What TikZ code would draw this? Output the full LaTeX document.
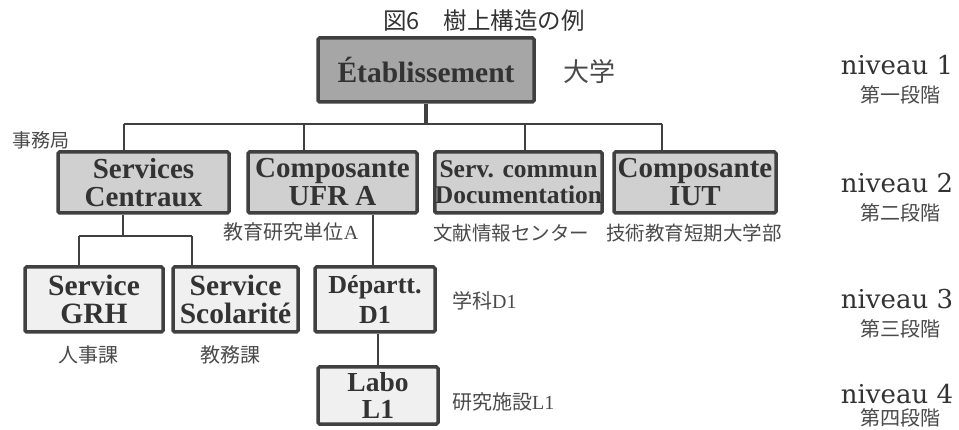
\documentclass[tikz,border=0pt]{standalone}
\usepackage{fontspec}
\setmainfont{Liberation Serif}
\newfontfamily\jp{Noto Sans CJK JP}
\newfontfamily\nivfont{DejaVu Serif}
\usepackage{tikz}
\definecolor{edge}{HTML}{404040}
\definecolor{ink}{HTML}{333333}
\definecolor{note}{HTML}{4a4a4a}
\definecolor{fillone}{HTML}{a6a6a6}
\definecolor{filltwo}{HTML}{d0d0d0}
\definecolor{fillthree}{HTML}{f0f0f0}
\tikzset{
  box/.style={draw=edge, line width=3.5pt, rounded corners=1.5pt, inner sep=0pt, align=center, text=ink},
  boxone/.style={box, fill=fillone, minimum width=216pt, minimum height=64pt, font=\fontsize{29.5}{28}\selectfont\bfseries},
  boxtwo/.style={box, fill=filltwo, minimum height=61pt, font=\fontsize{29}{28}\selectfont\bfseries},
  boxthree/.style={box, fill=fillthree, minimum height=65pt, font=\fontsize{29.5}{28}\selectfont\bfseries},
  link/.style={draw=edge, line width=2pt},
  jplabel/.style={inner sep=0pt, text=note, font=\jp\fontsize{20}{22}\selectfont},
  nivlabel/.style={inner sep=0pt, text=ink, font=\nivfont\fontsize{26}{28}\selectfont},
  steplabel/.style={inner sep=0pt, text=note, font=\jp\fontsize{20}{22}\selectfont}
}
\begin{document}
\begin{tikzpicture}[x=1pt, y=-1pt]
   \useasboundingbox (0,0) rectangle (959,430);
   \node[inner sep=0pt, text=ink, font=\jp\fontsize{23.5}{25}\selectfont] (title) at (484,21) {図6　樹上構造の例};

   \node[boxone] (etab) at (426,70) {Établissement};
   \node[boxtwo, minimum width=171pt] (sc) at (143.5,182.5) {Services\\Centraux};
   \node[boxtwo, minimum width=169pt] (ufr) at (332.5,182.5) {Composante\\UFR A};
   \node[boxtwo, minimum width=167pt, font=\fontsize{25.5}{26}\selectfont\bfseries] (doc) at (518.5,182.5) {Serv. commun\\Documentation};
   \node[boxtwo, minimum width=162pt] (iut) at (695,182.5) {Composante\\IUT};
   \node[boxthree, minimum width=138pt] (grh) at (94,299.5) {Service\\GRH};
   \node[boxthree, minimum width=125pt] (scol) at (235.5,299.5) {Service\\Scolarité};
   \node[boxthree, minimum width=120pt, font=\fontsize{26}{30}\selectfont\bfseries] (dep) at (375,299.5) {Départt.\\D1};
   \node[boxthree, minimum width=120pt, minimum height=57pt, font=\fontsize{27.5}{27}\selectfont\bfseries] (labo) at (378,395.5) {Labo\\L1};

   \coordinate (b1) at (124,124);
   \coordinate (b2) at (304,124);
   \coordinate (b3) at (525,124);
   \coordinate (b4) at (662,124);
   \coordinate (c0) at (123,236);
   \coordinate (c1) at (79,236);
   \coordinate (c2) at (192,236);
   \coordinate (u) at (373,250);
   \coordinate (l) at (378,350);

   \draw[link, line width=4pt] (etab.south) -- (etab.south |- b1);
   \draw[link] (b1) -- (b4);
   \draw[link] (b1) -- (b1 |- sc.north);
   \draw[link] (b2) -- (b2 |- ufr.north);
   \draw[link] (b3) -- (b3 |- doc.north);
   \draw[link] (b4) -- (b4 |- iut.north);
   \draw[link] (c0 |- sc.south) -- (c0);
   \draw[link] (c1) -- (c2);
   \draw[link, line width=2.6pt] (c1) -- (c1 |- grh.north);
   \draw[link, line width=2.6pt] (c2) -- (c2 |- scol.north);
   \draw[link, line width=2.6pt] (u |- ufr.south) -- (u |- dep.north);
   \draw[link, line width=2.6pt] (l |- dep.south) -- (l |- labo.north);

   \node[jplabel, font=\jp\fontsize{26}{28}\selectfont, anchor=west] (daigaku) at (563,72) {大学};
   \node[jplabel, font=\jp\fontsize{19}{22}\selectfont] (jimu) at (41,140) {事務局};
   \node[jplabel] (kyoiku) at (291,232) {教育研究単位\rmfamily A};
   \node[jplabel, font=\jp\fontsize{19.5}{22}\selectfont] (bunken) at (511,233) {文献情報センター};
   \node[jplabel, font=\jp\fontsize{19.5}{22}\selectfont] (gijutsu) at (694,233) {技術教育短期大学部};
   \node[jplabel] (jinji) at (88,355) {人事課};
   \node[jplabel] (kyomu) at (230,355) {教務課};
   \node[jplabel, anchor=west] (gakka) at (452,301) {学科\rmfamily D1};
   \node[jplabel, anchor=west] (kenkyu) at (452,402) {研究施設\rmfamily L1};

   \node[nivlabel] (n1) at (897,65) {niveau 1};
   \node[steplabel] (s1) at (900,95) {第一段階};
   \node[nivlabel] (n2) at (897,183) {niveau 2};
   \node[steplabel] (s2) at (900,213) {第二段階};
   \node[nivlabel] (n3) at (897,299) {niveau 3};
   \node[steplabel] (s3) at (900,329) {第三段階};
   \node[nivlabel] (n4) at (897,394) {niveau 4};
   \node[steplabel] (s4) at (900,418) {第四段階};
\end{tikzpicture}
\end{document}
